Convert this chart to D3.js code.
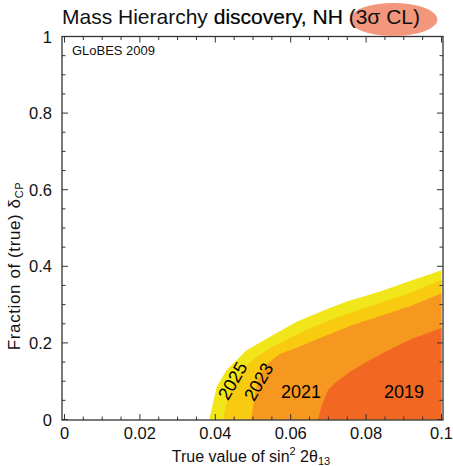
<!DOCTYPE html>
<html><head><meta charset="utf-8">
<script src="https://cdn.jsdelivr.net/npm/d3@7"></script>
<style>body{margin:0;background:#fff}svg{display:block;font-family:"Liberation Sans",Arial,sans-serif}</style>
</head><body><div id="chart"></div>
<script>
const years = ["2025","2023","2021","2019"];
const colors = ["#f0e61a","#f9cb10","#f6981f","#f26722"];
const xTicks = [0,0.02,0.04,0.06,0.08,0.1];
const yTicks = [0,0.2,0.4,0.6,0.8,1];
const b2025 = [[0.0384,0],[0.0404,0.086],[0.0430,0.129],[0.0483,0.181],[0.0545,0.216],[0.0616,0.255],[0.0695,0.288],[0.0749,0.308],[0.0837,0.334],[0.0924,0.364],[0.1,0.39]];
const b2023 = [[0.0421,0],[0.0434,0.064],[0.0455,0.108],[0.0492,0.150],[0.0545,0.187],[0.0624,0.226],[0.0704,0.260],[0.081,0.296],[0.0916,0.330],[0.1,0.365]];
const b2021 = [[0.0495,0],[0.0503,0.051],[0.0513,0.103],[0.0534,0.142],[0.0571,0.171],[0.0614,0.187],[0.0678,0.213],[0.0757,0.244],[0.0837,0.270],[0.0916,0.296],[0.1,0.329]];
const b2019 = [[0.0672,0],[0.0683,0.038],[0.0699,0.077],[0.072,0.098],[0.0757,0.124],[0.0797,0.148],[0.085,0.176],[0.0916,0.208],[0.1,0.239]];
const bounds = [b2025,b2023,b2021,b2019];

const W=453,H=466;
const svg=d3.select("#chart").append("svg").attr("width",W).attr("height",H);
const x=d3.scaleLinear().domain([0,0.1]).range([64.5,441.5]);
const y=d3.scaleLinear().domain([0,1]).range([419.5,36.5]);

// regions
bounds.forEach((b,i)=>{
  const pts=[...b,[0.1,0]];
  svg.append("path").attr("d",d3.line().x(d=>x(d[0])).y(d=>y(d[1]))(pts)+"Z").attr("fill",colors[i]);
});

// frame
const L=62,R=443,T=36.5,B=420;
svg.append("rect").attr("x",L).attr("y",T).attr("width",R-L).attr("height",B-T).attr("fill","none").attr("stroke","#333").attr("stroke-width",1.3);

const xMinor=d3.range(0,0.1001,0.005);
const yMinor=d3.range(0,1.0001,0.05);
const tk=svg.append("g").attr("stroke","#333").attr("stroke-width",1);
xMinor.forEach(v=>{
  const major=xTicks.some(t=>Math.abs(t-v)<1e-6);const len=major?6:3.5;
  tk.append("line").attr("x1",x(v)).attr("x2",x(v)).attr("y1",B).attr("y2",B-len);
  tk.append("line").attr("x1",x(v)).attr("x2",x(v)).attr("y1",T).attr("y2",T+len);
});
yMinor.forEach(v=>{
  const major=yTicks.some(t=>Math.abs(t-v)<1e-6);const len=major?6:3.5;
  tk.append("line").attr("y1",y(v)).attr("y2",y(v)).attr("x1",L).attr("x2",L+len);
  tk.append("line").attr("y1",y(v)).attr("y2",y(v)).attr("x1",R).attr("x2",R-len);
});

// tick labels
const fmt=v=>v===0?"0":v===1?"1":(v===0.1?"0.1":String(+v.toFixed(2)));
svg.append("g").selectAll("text").data(xTicks).join("text")
  .attr("x",d=>x(d)).attr("y",439).attr("text-anchor","middle").attr("font-size",16.5).attr("fill","#111").text(fmt);
svg.append("g").selectAll("text").data(yTicks).join("text")
  .attr("x",52).attr("y",d=>y(d)+6).attr("text-anchor","end").attr("font-size",16.5).attr("fill","#111").text(fmt);

// axis titles
const xl=svg.append("text").attr("x",251).attr("y",462).attr("text-anchor","middle").attr("font-size",16).attr("fill","#111");
xl.append("tspan").text("True value of sin");
xl.append("tspan").attr("dy",-7).attr("font-size",11).text("2");
xl.append("tspan").attr("dy",7).text(" 2θ");
xl.append("tspan").attr("dy",3).attr("font-size",11).text("13");
const yl=svg.append("text").attr("transform","translate(20,266) rotate(-90)").attr("text-anchor","middle").attr("font-size",17).attr("letter-spacing",0.6).attr("fill","#111");
yl.append("tspan").text("Fraction of (true) δ");
yl.append("tspan").attr("dy",3).attr("font-size",11).text("CP");

// GLoBES
svg.append("text").attr("x",72).attr("y",55).attr("font-size",12).attr("textLength",83).attr("lengthAdjust","spacingAndGlyphs").attr("fill","#111").text("GLoBES 2009");

// title
svg.append("ellipse").attr("cx",393.5).attr("cy",19.5).attr("rx",44).attr("ry",16.5).attr("fill","#f2967c");
const tt=svg.append("text").attr("x",62).attr("y",23.5).attr("font-size",21).attr("fill","#111");
tt.append("tspan").text("Mass Hierarchy ");
tt.append("tspan").attr("fill","#000").attr("stroke","#000").attr("stroke-width",0.2).text("discovery, NH ");
tt.append("tspan").text("(3σ CL)");

// year labels
svg.append("text").attr("x",404).attr("y",398).attr("text-anchor","middle").attr("font-size",18).text(years[3]);
svg.append("text").attr("x",301).attr("y",398).attr("text-anchor","middle").attr("font-size",18).text(years[2]);
svg.append("text").attr("transform","translate(264,385) rotate(-60)").attr("text-anchor","middle").attr("font-size",18).text(years[1]);
svg.append("text").attr("transform","translate(238,384) rotate(-60)").attr("text-anchor","middle").attr("font-size",18).text(years[0]);
</script></body></html>
